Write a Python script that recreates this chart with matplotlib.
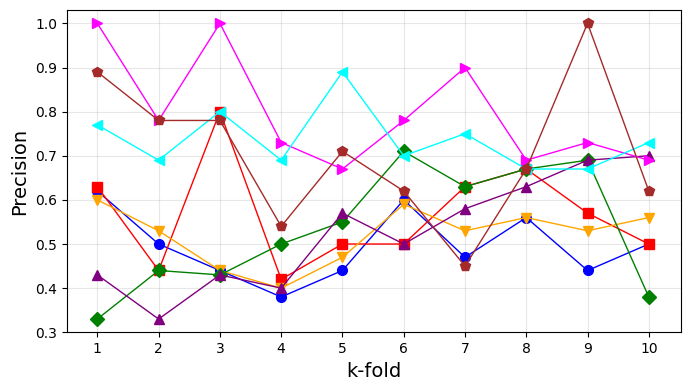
import matplotlib
matplotlib.use("Agg")
import matplotlib.pyplot as plt

folds = list(range(1, 11))
blue = [0.62, 0.50, 0.44, 0.38, 0.44, 0.60, 0.47, 0.56, 0.44, 0.50]
red = [0.63, 0.44, 0.80, 0.42, 0.50, 0.50, 0.63, 0.67, 0.57, 0.50]
orange = [0.60, 0.53, 0.44, 0.40, 0.47, 0.59, 0.53, 0.56, 0.53, 0.56]
green = [0.33, 0.44, 0.43, 0.50, 0.55, 0.71, 0.63, 0.67, 0.69, 0.38]
purple = [0.43, 0.33, 0.43, 0.40, 0.57, 0.50, 0.58, 0.63, 0.69, 0.70]
magenta = [1.00, 0.78, 1.00, 0.73, 0.67, 0.78, 0.90, 0.69, 0.73, 0.69]
cyan = [0.77, 0.69, 0.80, 0.69, 0.89, 0.70, 0.75, 0.67, 0.67, 0.73]
brown = [0.89, 0.78, 0.78, 0.54, 0.71, 0.62, 0.45, 0.67, 1.00, 0.62]

series = [
    (blue, "blue", "o"),
    (red, "red", "s"),
    (orange, "orange", "v"),
    (green, "green", "D"),
    (purple, "purple", "^"),
    (magenta, "magenta", ">"),
    (cyan, "cyan", "<"),
    (brown, "brown", "p"),
]

fig = plt.figure(figsize=(6.9, 3.9), dpi=100)
ax = fig.add_axes([0.0967, 0.148, 0.8898, 0.826])
for vals, c, m in series:
    ax.plot(folds, vals, color=c, marker=m, linewidth=1, markersize=7)

ax.set_xlim(0.5, 10.52)
ax.set_ylim(0.3, 1.03)
ax.set_xticks(folds)
ax.set_xlabel("k-fold", fontsize=14)
ax.set_ylabel("Precision", fontsize=14)
ax.grid(True, alpha=0.3)
fig.savefig("out.png", dpi=100)
